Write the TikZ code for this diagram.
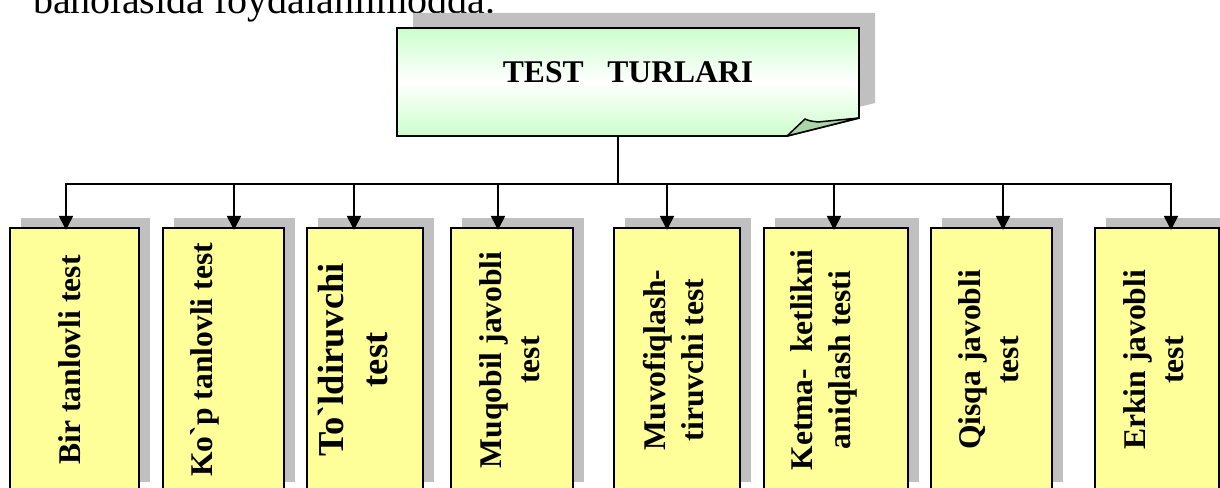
\documentclass[tikz,border=0pt]{standalone}
\usepackage{fontspec}
\setmainfont{Liberation Serif}
\newfontfamily\rawserif{Liberation Serif}
\usetikzlibrary{arrows.meta,shadows,calc}
\definecolor{boxyellow}{HTML}{FFFF99}
\definecolor{shadowgray}{HTML}{C0C0C0}
\definecolor{lightgreen}{HTML}{CCFFCC}
\definecolor{flapgreen}{HTML}{A9D6A9}
\begin{document}
\begin{tikzpicture}[x=1pt,y=1pt,
  ybox/.style={draw, line width=1.8pt, fill=boxyellow, anchor=north west, inner sep=0pt,
    minimum height=264pt,
    drop shadow={shadow xshift=11pt, shadow yshift=10pt, fill=shadowgray, opacity=1}},
  lbl/.style={rotate=90, align=center, inner sep=0pt,
    font=\rawserif\fontsize{31.6}{38}\selectfont\bfseries},
  biglbl/.style={lbl, font=\rawserif\fontsize{36.5}{44}\selectfont\bfseries},
  conn/.style={line width=1.6pt},
  arr/.style={conn, -{Triangle[width=14pt,length=14pt]}, shorten >=-3pt}]
\useasboundingbox (0,0) rectangle (1220,487);

% intro line (cut off at top)
\node[anchor=base west, inner sep=0pt, font=\fontsize{40}{48}\selectfont] (intro) at (33,473) {baholasida foydalanilmoqda.};

% title box with folded corner
\fill[shadowgray] (413,474) -- (875,474) -- (875,384) -- (803,366) -- (413,366) -- cycle;
\draw[line width=1.8pt, line join=miter, top color=lightgreen, bottom color=lightgreen, middle color=white]
  (397,459) -- (859,459) -- (859,369) -- (787,351) -- (397,351) -- cycle;
\draw[line width=1.5pt, line join=round, fill=flapgreen]
  (787,351) -- (805,368) .. controls (810,366) .. (818,365) -- (859,369) -- cycle;
\node[font=\fontsize{31.6}{38}\selectfont\bfseries, inner sep=0pt] (title) at (628,414.5) {TEST\ \ \ TURLARI};
\coordinate (tb) at (618,351);

% boxes
\node[ybox, minimum width=129pt] (b1) at (9,260) {};
\node[ybox, minimum width=121pt] (b2) at (162,260) {};
\node[ybox, minimum width=116pt] (b3) at (306,260) {};
\node[ybox, minimum width=122pt] (b4) at (450,260) {};
\node[ybox, minimum width=126pt] (b5) at (613,260) {};
\node[ybox, minimum width=144pt] (b6) at (763,260) {};
\node[ybox, minimum width=121pt] (b7) at (930,260) {};
\node[ybox, minimum width=124pt] (b8) at (1094,260) {};

% labels
\node[lbl] (l1) at ($(b1.center)+(-5,0)$) {Bir tanlovli test};
\node[lbl] (l2) at ($(b2.center)+(-19,0)$) {Ko`p tanlovli test};
\node[biglbl] (l3) at ($(b3.center)+(-12,0)$) {To`ldiruvchi\\test};
\node[lbl] (l4) at ($(b4.center)+(-2,0)$) {Muqobil javobli\\test};
\node[lbl] (l5) at ($(b5.center)+(-3.5,0)$) {Muvofiqlash-\\tiruvchi test};
\node[lbl] (l6) at ($(b6.center)+(-12.5,0)$) {Ketma-\ \ ketlikni\\aniqlash testi};
\node[lbl] (l7) at ($(b7.center)+(-2.5,0)$) {Qisqa javobli\\test};
\node[lbl] (l8) at ($(b8.center)+(-3,0)$) {Erkin javobli\\test};

% connectors
\coordinate (bus) at (618,303);
\coordinate (d1) at (66,303);
\coordinate (d2) at (234,303);
\coordinate (d3) at (354,303);
\coordinate (d4) at (498,303);
\coordinate (d5) at (667,303);
\coordinate (d6) at (834,303);
\coordinate (d7) at (1003,303);
\coordinate (d8) at (1171,303);
\draw[conn] (tb) -- (bus);
\draw[conn, line cap=rect] (d1) -- (d8);
\draw[arr] (d1) -- (d1 |- b1.north);
\draw[arr] (d2) -- (d2 |- b2.north);
\draw[arr] (d3) -- (d3 |- b3.north);
\draw[arr] (d4) -- (d4 |- b4.north);
\draw[arr] (d5) -- (d5 |- b5.north);
\draw[arr] (d6) -- (d6 |- b6.north);
\draw[arr] (d7) -- (d7 |- b7.north);
\draw[arr] (d8) -- (d8 |- b8.north);
\end{tikzpicture}
\end{document}
